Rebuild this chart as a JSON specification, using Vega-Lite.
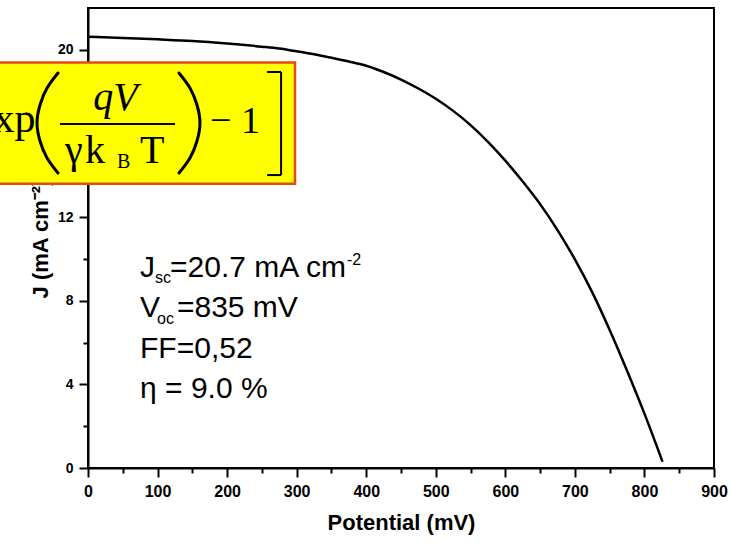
{
  "$schema": "https://vega.github.io/schema/vega-lite/v6.json",
  "width": 626,
  "height": 460,
  "autosize": {"type": "none"},
  "padding": {"left": 88, "top": 8, "right": 17, "bottom": 75},
  "background": "white",
  "config": {
    "view": {"stroke": "black", "strokeWidth": 2},
    "axis": {"domainColor": "black", "domainWidth": 2, "tickColor": "black", "tickWidth": 2, "labelColor": "black", "titleColor": "black", "grid": false}
  },
  "datasets": {
    "curve": [
      {"V": 0, "J": 20.63}, {"V": 50, "J": 20.57}, {"V": 100, "J": 20.5}, {"V": 150, "J": 20.42},
      {"V": 200, "J": 20.3}, {"V": 250, "J": 20.15}, {"V": 275, "J": 20.06}, {"V": 300, "J": 19.93},
      {"V": 325, "J": 19.79}, {"V": 350, "J": 19.62}, {"V": 375, "J": 19.44}, {"V": 400, "J": 19.24},
      {"V": 425, "J": 18.94}, {"V": 450, "J": 18.58}, {"V": 475, "J": 18.15}, {"V": 500, "J": 17.66},
      {"V": 525, "J": 17.08}, {"V": 550, "J": 16.4}, {"V": 575, "J": 15.6}, {"V": 600, "J": 14.7},
      {"V": 625, "J": 13.7}, {"V": 650, "J": 12.62}, {"V": 675, "J": 11.38}, {"V": 700, "J": 9.98},
      {"V": 725, "J": 8.4}, {"V": 750, "J": 6.6}, {"V": 775, "J": 4.65}, {"V": 800, "J": 2.6},
      {"V": 826, "J": 0.3}
    ],
    "box": [{"V": -150, "V2": 297.6, "J": 19.39, "J2": 13.59}],
    "rules": [
      {"V": -40.3, "V2": 125.1, "J": 16.45, "J2": 16.45},
      {"V": 277.6, "V2": 277.6, "J": 18.94, "J2": 14.01},
      {"V": 257.5, "V2": 277.6, "J": 18.94, "J2": 18.94},
      {"V": 257.5, "V2": 277.6, "J": 14.01, "J2": 14.01}
    ],
    "parens": [
      {"p": "L", "o": 1, "V": -43.1, "J": 18.89},
      {"p": "L", "o": 2, "V": -58.9, "J": 18.17},
      {"p": "L", "o": 3, "V": -69.0, "J": 17.36},
      {"p": "L", "o": 4, "V": -73.3, "J": 16.5},
      {"p": "L", "o": 5, "V": -69.0, "J": 15.64},
      {"p": "L", "o": 6, "V": -58.9, "J": 14.83},
      {"p": "L", "o": 7, "V": -43.1, "J": 14.11},
      {"p": "R", "o": 1, "V": 130.8, "J": 18.89},
      {"p": "R", "o": 2, "V": 146.6, "J": 18.17},
      {"p": "R", "o": 3, "V": 156.7, "J": 17.36},
      {"p": "R", "o": 4, "V": 161.0, "J": 16.5},
      {"p": "R", "o": 5, "V": 156.7, "J": 15.64},
      {"p": "R", "o": 6, "V": 146.6, "J": 14.83},
      {"p": "R", "o": 7, "V": 130.8, "J": 14.11}
    ],
    "f_italic": [{"t": "qV", "V": 39.5, "J": 17.12}],
    "f_norm": [{"t": "γ", "V": -33.1, "J": 14.59}, {"t": "k", "V": -4.3, "J": 14.59}, {"t": "T", "V": 74.8, "J": 14.59}],
    "f_sub": [{"t": "B", "V": 41.7, "J": 14.33}],
    "f_exp": [{"t": "exp", "V": -162.5, "J": 16.05}],
    "f_main": [{"t": "− 1", "V": 175.4, "J": 16.02}],
    "a_main": [
      {"t": "J", "V": 74.8, "J": 9.13},
      {"t": "=20.7 mA cm", "V": 117.9, "J": 9.13},
      {"t": "V", "V": 74.8, "J": 7.21},
      {"t": "=835 mV", "V": 127.9, "J": 7.21},
      {"t": "FF=0,52", "V": 74.8, "J": 5.28},
      {"t": "η = 9.0 %", "V": 74.8, "J": 3.35}
    ],
    "a_small": [
      {"t": "sc", "V": 96.3, "J": 8.83},
      {"t": "-2", "V": 372.3, "J": 9.71},
      {"t": "oc", "V": 99.2, "J": 6.91}
    ]
  },
  "encoding": {
    "x": {
      "field": "V", "type": "quantitative",
      "scale": {"domain": [0, 900], "nice": false, "zero": false},
      "axis": {
        "title": "Potential (mV)",
        "values": [0, 50, 100, 150, 200, 250, 300, 350, 400, 450, 500, 550, 600, 650, 700, 750, 800, 850, 900],
        "labelExpr": "datum.value % 100 === 0 ? datum.label : ''",
        "labelOverlap": false,
        "labelFlush": false,
        "tickSize": {"condition": {"test": "datum.value % 100 === 0", "value": 9}, "value": 5},
        "labelFont": "Liberation Sans", "labelFontWeight": "bold", "labelFontSize": 16, "labelPadding": 6,
        "titleFont": "Liberation Sans", "titleFontWeight": "bold", "titleFontSize": 22, "titlePadding": 13
      }
    },
    "y": {
      "field": "J", "type": "quantitative",
      "scale": {"domain": [0, 22], "nice": false, "zero": false},
      "axis": {
        "title": "J (mA cm⁻²)",
        "values": [0, 2, 4, 6, 8, 10, 12, 14, 16, 18, 20],
        "labelExpr": "datum.value % 4 === 0 ? datum.label : ''",
        "labelOverlap": false,
        "labelFlush": false,
        "tickSize": {"condition": {"test": "datum.value % 4 === 0", "value": 9}, "value": 5},
        "labelFont": "Liberation Sans", "labelFontWeight": "bold", "labelFontSize": 14, "labelPadding": 6,
        "titleFont": "Liberation Sans", "titleFontWeight": "bold", "titleFontSize": 22, "titlePadding": 5
      }
    }
  },
  "layer": [
    {
      "data": {"name": "curve"},
      "mark": {"type": "line", "color": "black", "strokeWidth": 2.5, "interpolate": "monotone"}
    },
    {
      "data": {"name": "box"},
      "mark": {"type": "rect", "fill": "#ffff00", "stroke": "#e64a19", "strokeWidth": 2.5},
      "encoding": {"x2": {"field": "V2"}, "y2": {"field": "J2"}}
    },
    {
      "data": {"name": "rules"},
      "mark": {"type": "rule", "color": "black", "strokeWidth": 2},
      "encoding": {"x2": {"field": "V2"}, "y2": {"field": "J2"}}
    },
    {
      "data": {"name": "parens"},
      "mark": {"type": "line", "color": "black", "strokeWidth": 3, "interpolate": "natural", "strokeCap": "round"},
      "encoding": {"detail": {"field": "p"}, "order": {"field": "o", "type": "quantitative"}}
    },
    {
      "data": {"name": "f_italic"},
      "mark": {"type": "text", "font": "Liberation Serif", "fontStyle": "italic", "fontSize": 40, "align": "center", "baseline": "alphabetic", "color": "black"},
      "encoding": {"text": {"field": "t"}}
    },
    {
      "data": {"name": "f_norm"},
      "mark": {"type": "text", "font": "Liberation Serif", "fontSize": 40, "align": "left", "baseline": "alphabetic", "color": "black"},
      "encoding": {"text": {"field": "t"}}
    },
    {
      "data": {"name": "f_sub"},
      "mark": {"type": "text", "font": "Liberation Serif", "fontSize": 20, "align": "left", "baseline": "alphabetic", "color": "black"},
      "encoding": {"text": {"field": "t"}}
    },
    {
      "data": {"name": "f_exp"},
      "mark": {"type": "text", "font": "Liberation Serif", "fontSize": 42, "align": "left", "baseline": "alphabetic", "color": "black"},
      "encoding": {"text": {"field": "t"}}
    },
    {
      "data": {"name": "f_main"},
      "mark": {"type": "text", "font": "Liberation Serif", "fontSize": 38, "align": "left", "baseline": "alphabetic", "color": "black"},
      "encoding": {"text": {"field": "t"}}
    },
    {
      "data": {"name": "a_main"},
      "mark": {"type": "text", "font": "Liberation Sans", "fontSize": 30, "align": "left", "baseline": "alphabetic", "color": "black"},
      "encoding": {"text": {"field": "t"}}
    },
    {
      "data": {"name": "a_small"},
      "mark": {"type": "text", "font": "Liberation Sans", "fontSize": 16, "align": "left", "baseline": "alphabetic", "color": "black"},
      "encoding": {"text": {"field": "t"}}
    }
  ]
}
